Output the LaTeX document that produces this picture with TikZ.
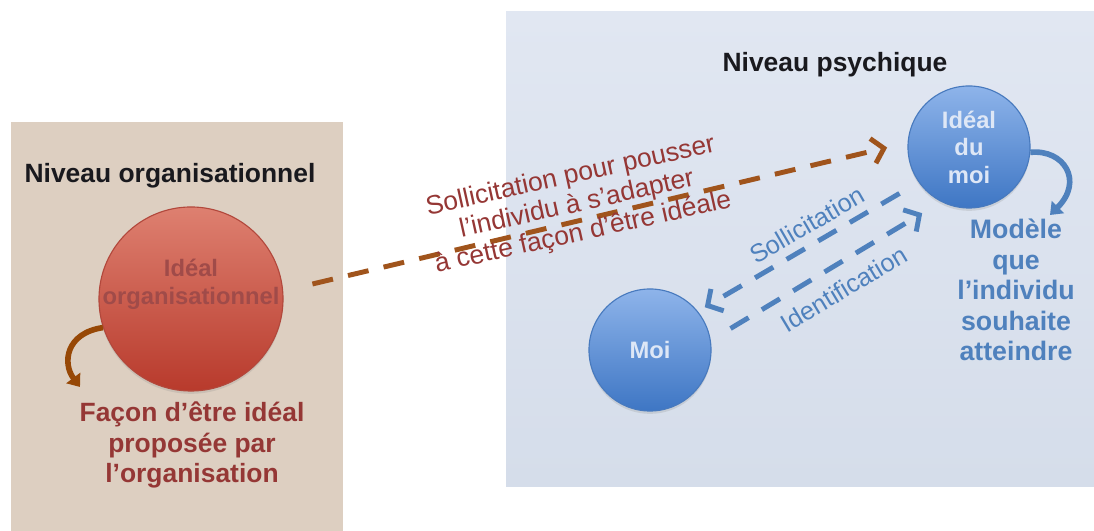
\documentclass[tikz,border=0pt]{standalone}
\usepackage{fontspec}
\setmainfont{Liberation Sans}
\usepackage{tikz}
\usetikzlibrary{arrows.meta,positioning,shadows}
\definecolor{beigepanel}{RGB}{221,207,193}
\definecolor{bluepaneltop}{RGB}{225,231,242}
\definecolor{bluepanelbot}{RGB}{213,221,234}
\definecolor{titleblack}{RGB}{25,25,30}
\definecolor{darkred}{RGB}{149,55,53}
\definecolor{redtop}{RGB}{222,128,112}
\definecolor{redbot}{RGB}{184,58,44}
\definecolor{redline}{RGB}{178,72,60}
\definecolor{brownarrow}{RGB}{160,84,28}
\definecolor{browncurve}{RGB}{151,72,6}
\definecolor{bluetext}{RGB}{79,129,189}
\definecolor{bluetop}{RGB}{142,180,234}
\definecolor{bluebot}{RGB}{62,118,196}
\definecolor{blueline}{RGB}{72,122,190}
\definecolor{palewhite}{RGB}{222,231,246}

\tikzset{
  leveltitle/.style={font=\fontsize{18.8}{22}\selectfont\bfseries, text=titleblack, inner sep=0pt},
  redcircle/.style={circle, draw=redline, thick, top color=redtop, bottom color=redbot,
    minimum size=4.6cm, inner sep=0pt, drop shadow={opacity=0.2, shadow xshift=0pt, shadow yshift=-2pt}},
  bluecircle/.style={circle, draw=blueline, thick, top color=bluetop, bottom color=bluebot,
    minimum size=3.05cm, inner sep=0pt, align=center, text=palewhite,
    font=\fontsize{16.9}{19.6}\selectfont\bfseries,
    drop shadow={opacity=0.2, shadow xshift=0pt, shadow yshift=-2pt}},
  redcomment/.style={font=\fontsize{18.8}{21.7}\selectfont\bfseries, text=darkred, align=center, inner sep=0pt},
  bluecomment/.style={font=\fontsize{19}{21.8}\selectfont\bfseries, text=bluetext, align=center, inner sep=0pt},
  dasharrow/.style={line width=3.5pt, dash pattern=on 15pt off 11pt, -{Straight Barb[length=8pt,width=18pt]}},
  curvearrow/.style={line width=4pt, -{Triangle[length=8pt,width=12pt]}}
}

\begin{document}
\begin{tikzpicture}[x=0.025cm,y=0.025cm]
  \useasboundingbox (0,0) rectangle (1094,531);

  % Panels
  \fill[beigepanel] (11,0) rectangle (343,409);
  \shade[top color=bluepaneltop, bottom color=bluepanelbot] (506,44) rectangle (1094,519);

  % Niveau organisationnel
  \node[leveltitle] (orgtitle) at (170,355) {Niveau organisationnel};
  \node[redcircle] (orgcircle) at (191,232) {};
  \node[font=\fontsize{16.9}{19.9}\selectfont\bfseries, text=darkred!90, align=center, inner sep=0pt]
    (orgtext) at (191,247) {Idéal\\organisationnel};
  \node[redcomment] (facon) at (192,86) {Façon d’être idéal\\proposée par\\l’organisation};
  \coordinate (faconarr) at (80,144);
  \draw[curvearrow, browncurve] (orgcircle.198) .. controls (66,198) and (62,168) .. (faconarr);

  % Niveau psychique
  \node[leveltitle] (psytitle) at (835,466) {Niveau psychique};
  \node[bluecircle] (idealmoi) at (969,384) {Idéal\\du\\moi};
  \node[bluecircle] (moi) at (650,181) {Moi};
  \node[bluecomment] (modele) at (1016,241) {Modèle\\que\\l’individu\\souhaite\\atteindre};
  \coordinate (modelearr) at (1050,316);
  \draw[curvearrow, bluetext] (idealmoi.355) .. controls (1064,382) and (1084,350) .. (modelearr);

  % Arrows
  \draw[dasharrow, brownarrow, shorten <=0.75cm, shorten >=0.525cm]
    (orgcircle.5.7) -- (idealmoi.176.5);
  \draw[dasharrow, bluetext, shorten <=0.55cm, shorten >=0.2cm]
    (idealmoi.215) -- (moi.39.7);
  \draw[dasharrow, bluetext, shorten <=0.575cm, shorten >=0.55cm]
    (moi.9.6) -- (idealmoi.243.6);

  % Labels
  \node[font=\fontsize{18.8}{20.6}\selectfont, text=darkred, align=center, inner sep=0pt, rotate=12.5]
    (sollpousser) at (577,326) {Sollicitation pour pousser\\l’individu à s’adapter\\à cette façon d’être idéale};
  \node[font=\fontsize{18}{20}\selectfont, text=bluetext, inner sep=0pt, rotate=30]
    (sollic) at (807,306) {Sollicitation};
  \node[font=\fontsize{18}{20}\selectfont, text=bluetext, inner sep=0pt, rotate=31]
    (identif) at (844,242) {Identification};
\end{tikzpicture}
\end{document}
